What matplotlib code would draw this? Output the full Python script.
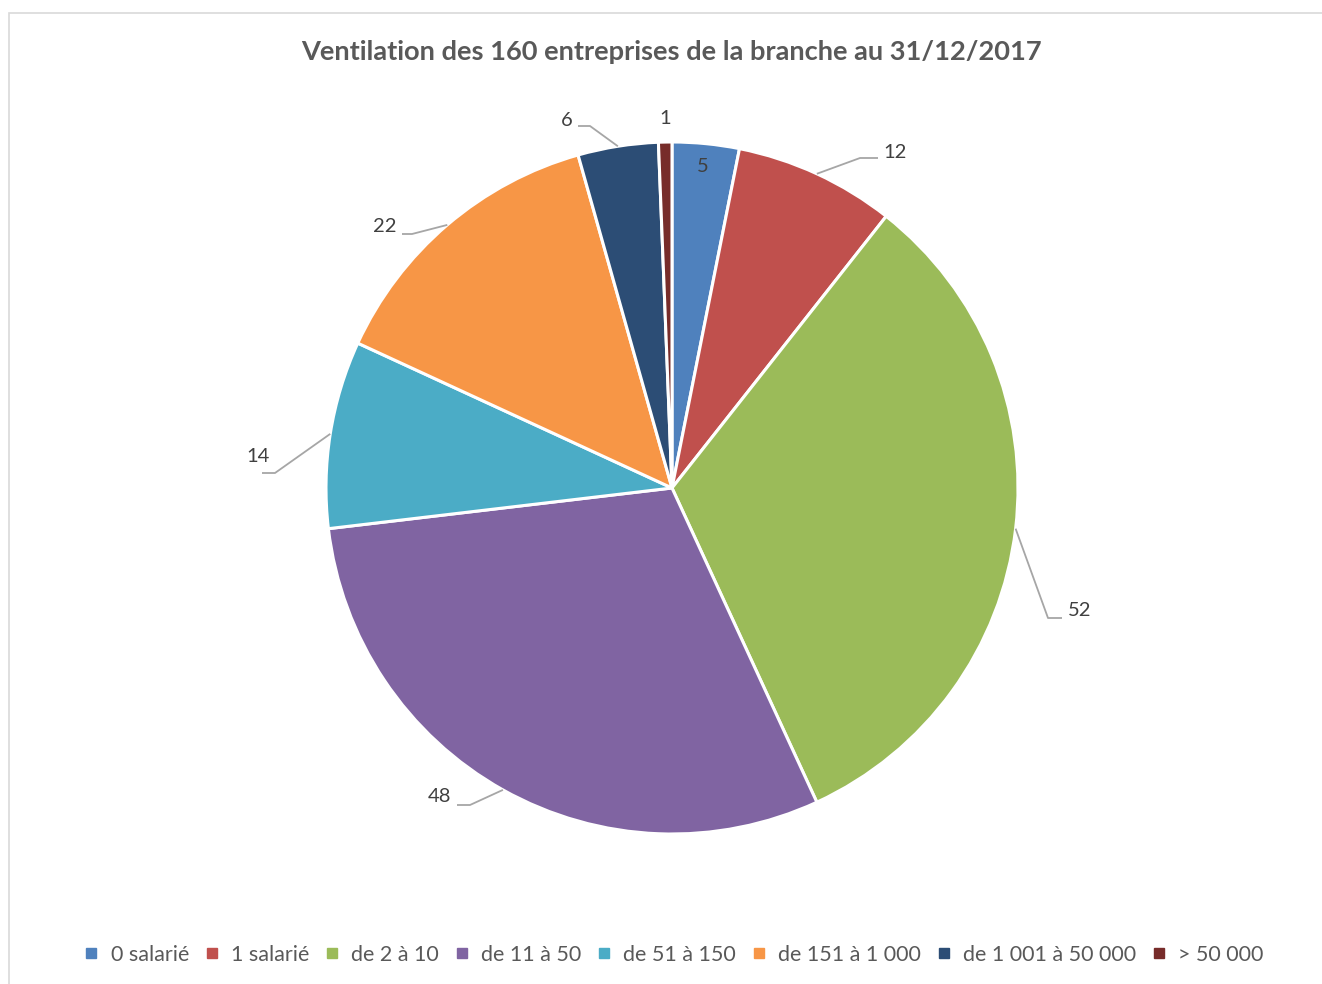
import matplotlib
matplotlib.use("Agg")
import matplotlib.pyplot as plt
import numpy as np
from matplotlib.patches import Rectangle

categories = ["0 salarié", "1 salarié", "de 2 à 10", "de 11 à 50", "de 51 à 150",
              "de 151 à 1 000", "de 1 001 à 50 000", "> 50 000"]
values = [5, 12, 52, 48, 14, 22, 6, 1]
colors = ["#4F81BD", "#C0504D", "#9BBB59", "#8064A2", "#4BACC6", "#F79646", "#2C4D75", "#772C2A"]
title = "Ventilation des 160 entreprises de la branche au 31/12/2017"

plt.rcParams['font.family'] = ['Lato', 'DejaVu Sans']
W, H = 1322, 984
fig = plt.figure(figsize=(W / 100, H / 100), dpi=100)

# chart border
fig.patches.append(Rectangle((9 / W, -0.1), 1.2, 1 - 13 / H + 0.1, transform=fig.transFigure,
                             fill=False, edgecolor="#d9d9d9", linewidth=1.2))

cx, cy, R = 672, 488, 346
ax = fig.add_axes([(cx - R) / W, (H - cy - R) / H, 2 * R / W, 2 * R / H])

wedges, _ = ax.pie(values, colors=colors, startangle=90, counterclock=False, radius=1,
                   wedgeprops=dict(edgecolor="white", linewidth=2.2))
ax.set_xlim(-1, 1)
ax.set_ylim(-1, 1)
ax.axis("off")

# label layout: text position, optional elbow and end of leader line (in pixels of the reference)
def p(x, y):
    return ((x - cx) / R, -(y - cy) / R)

layout = [
    (p(703, 167), None, None),
    (p(895, 152), p(860, 158), p(878, 158)),
    (p(1080, 610), p(1048, 618), p(1062, 618)),
    (p(440, 797), p(470, 805), p(457, 805)),
    (p(258, 456), p(275, 473), p(262, 473)),
    (p(385, 227), p(412, 234), p(402, 234)),
    (p(567, 120), p(590, 126), p(578, 126)),
    (p(665, 119), None, None),
]

for w, v, (tp, elbow, end) in zip(wedges, values, layout):
    ang = np.deg2rad((w.theta1 + w.theta2) / 2)
    ax.text(tp[0], tp[1], str(v), ha="center", va="center", fontsize=14.5,
            color="#404040", clip_on=False)
    if elbow is not None:
        anchor = (np.cos(ang), np.sin(ang))
        ax.plot([anchor[0], elbow[0], end[0]], [anchor[1], elbow[1], end[1]],
                color="#a6a6a6", linewidth=1.3, clip_on=False, solid_capstyle="butt")

fig.text(671 / W, 1 - 52 / H, title, ha="center", va="center", fontsize=19.6,
         fontweight="bold", color="#595959")

handles = [plt.Line2D([], [], marker="s", linestyle="none", markersize=7,
                      markerfacecolor=c, markeredgecolor=c) for c in colors]
fig.legend(handles, categories, loc="center", bbox_to_anchor=(673 / W, 1 - 955 / H),
           ncol=len(categories), frameon=False, fontsize=15.5, handlelength=0.8,
           handletextpad=0.5, columnspacing=0.65, labelcolor="#595959")

fig.savefig("out.png", dpi=100)
